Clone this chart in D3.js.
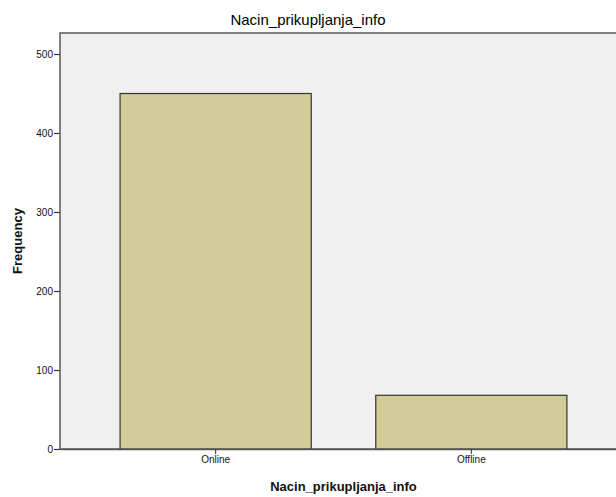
<!DOCTYPE html>
<html><head><meta charset="utf-8">
<script src="https://cdn.jsdelivr.net/npm/d3@7"></script>
<style>body{margin:0;background:#fff}svg{display:block}text{font-family:"Liberation Sans",Arial,sans-serif}</style>
</head><body>
<script>
const categories = ["Online", "Offline"];
const values = [450, 68];
const yTicks = [0, 100, 200, 300, 400, 500];
const title = "Nacin_prikupljanja_info";
const xTitle = "Nacin_prikupljanja_info";
const yTitle = "Frequency";

const W = 616, H = 497;
const m = {left: 60, top: 33, right: -11, bottom: 48};
const x0 = m.left, x1 = W - m.right, yBottom = H - m.bottom, yTop = m.top;

const svg = d3.select("body").append("svg").attr("width", W).attr("height", H);

const x = d3.scaleBand().domain(categories).range([x0, x1]).paddingInner(0.2524).paddingOuter(0.235);
const y = d3.scaleLinear().domain([0, 500]).range([yBottom, yBottom - 395]);

// plot background
svg.append("rect").attr("x", x0).attr("y", yTop).attr("width", x1 - x0).attr("height", yBottom - yTop)
  .attr("fill", "#f0f0f0").attr("stroke", "#5a5a5a").attr("stroke-width", 1.5);

svg.selectAll("rect.bar").data(categories).enter().append("rect").attr("class", "bar")
  .attr("x", d => x(d)).attr("width", x.bandwidth())
  .attr("y", (d, i) => y(values[i])).attr("height", (d, i) => y(0) - y(values[i]))
  .attr("fill", "#d2cd98").attr("stroke", "#333").attr("stroke-width", 1.2);

// y axis
const yAxis = d3.axisLeft(y).tickValues(yTicks).tickSize(6).tickSizeOuter(0).tickPadding(1);
const ga = svg.append("g").attr("transform", `translate(${x0},0)`).call(yAxis);
ga.select(".domain").remove();
ga.selectAll(".tick line").attr("stroke", "#333").attr("stroke-width", 1.2);
ga.selectAll(".tick text").attr("font-size", 10).attr("fill", "#111").attr("font-family", "Liberation Sans, Arial, sans-serif");

// x axis
const xAxis = d3.axisBottom(x).tickSize(5).tickSizeOuter(0).tickPadding(2);
const gx = svg.append("g").attr("transform", `translate(0,${yBottom})`).call(xAxis);
gx.select(".domain").attr("stroke", "#555").attr("stroke-width", 1.5);
gx.selectAll(".tick line").attr("stroke", "#333");
gx.selectAll(".tick text").attr("font-size", 10).attr("fill", "#111").attr("font-family", "Liberation Sans, Arial, sans-serif");

svg.append("text").attr("x", W / 2).attr("y", 25).attr("text-anchor", "middle")
  .attr("font-size", 15).attr("fill", "#000").text(title);
svg.append("text").attr("x", (x0 + x1) / 2).attr("y", 491).attr("text-anchor", "middle")
  .attr("font-size", 13).attr("font-weight", "bold").attr("fill", "#111").text(xTitle);
svg.append("text").attr("transform", `translate(22,${(yTop + yBottom) / 2}) rotate(-90)`).attr("text-anchor", "middle")
  .attr("font-size", 13).attr("font-weight", "bold").attr("fill", "#111").text(yTitle);
</script>
</body></html>
